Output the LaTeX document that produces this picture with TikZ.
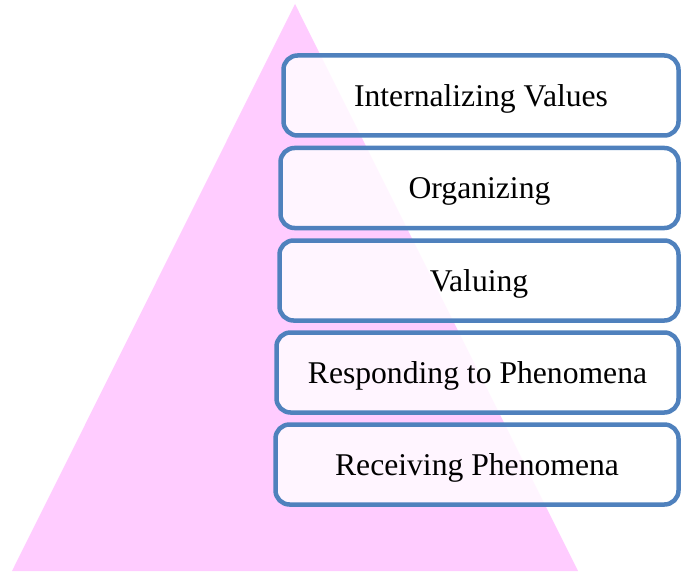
\documentclass[tikz,border=0pt]{standalone}
\usepackage{fontspec}
\setmainfont{Liberation Serif}
\usepackage{tikz}
\usetikzlibrary{positioning}

\definecolor{pyrpink}{HTML}{FFCCFF}
\definecolor{boxblue}{HTML}{4F81BD}

\begin{document}
\begin{tikzpicture}[x=0.025cm, y=-0.025cm,
    level/.style={draw=boxblue, line width=3.2pt, rounded corners=10pt,
      fill=white, fill opacity=0.82, text opacity=1, minimum height=80*0.025cm,
      font=\fontsize{22.5}{27}\selectfont, inner sep=0pt, text depth=0pt}]
      \useasboundingbox (0,0) rectangle (682,571);
      \fill[pyrpink] (295,4) -- (578,571) -- (12,571) -- cycle; % pyramid
      \node[level, minimum width=395*0.025cm] (internalizing) at (481,95.5) {Internalizing Values}; % top
      \node[level, minimum width=398*0.025cm] (organizing) at (479.5,188) {Organizing};
      \node[level, minimum width=399*0.025cm] (valuing) at (479,280.5) {Valuing};
      \node[level, minimum width=402*0.025cm] (responding) at (477.5,372.5) {Responding to Phenomena};
      \node[level, minimum width=403*0.025cm] (receiving) at (477,464.5) {Receiving Phenomena}; % bottom
    \end{tikzpicture}
\end{document}
